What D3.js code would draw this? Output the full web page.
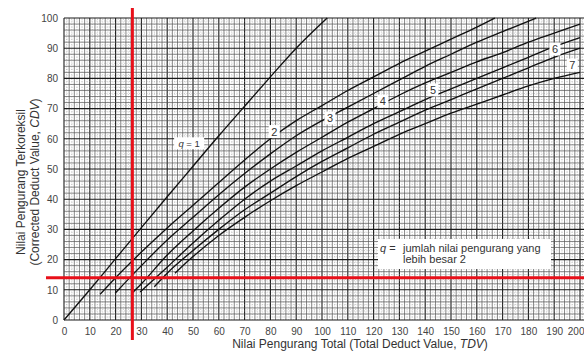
<!DOCTYPE html>
<html><head><meta charset="utf-8">
<script src="https://cdn.jsdelivr.net/npm/d3@7"></script>
<style>
html,body{margin:0;padding:0;background:#fff;}
svg{display:block;font-family:"Liberation Sans",Arial,sans-serif;}
</style></head>
<body>
<svg id="c" width="584" height="362"></svg>
<script>
// ---- data (TDV -> CDV) ----
const xTicks = [0,10,20,30,40,50,60,70,80,90,100,110,120,130,140,150,160,170,180,190,200];
const yTicks = [0,10,20,30,40,50,60,70,80,90,100];
const q1 = [[0,0],[10,10],[20,20.3],[30,30.6],[40,40.8],[50,50.9],[60,61],[70,70.8],[80,80.5],[90,90],[102,100]];
const q2 = [[14,8.5],[20,14],[30,22.5],[40,30.5],[50,38],[60,45.5],[70,53],[80,60],[90,66],[100,71],[110,76],[120,80.5],[130,85],[140,89],[150,93],[160,97],[167,100]];
const q3 = [[20,9],[30,18],[40,26.5],[50,34],[60,41.5],[70,48.5],[80,55],[90,61],[100,66],[110,70.5],[120,75],[130,79.5],[140,84],[150,88],[160,92],[170,95.5],[183,100]];
const q4 = [[26.5,9],[30,12],[40,21.5],[50,29.5],[60,37],[70,44],[80,50],[90,55.5],[100,60.5],[110,65.5],[120,70],[130,74.5],[140,78.5],[150,82],[160,85.5],[170,88.5],[180,92],[190,95],[200,98]];
const q5 = [[29.5,9.3],[40,17.5],[50,25.5],[60,33],[70,40],[80,46],[90,51],[100,56],[110,60.5],[120,65],[130,69],[140,73],[150,76.5],[160,80],[170,83.5],[180,87],[190,90.5],[200,93.5]];
const q6 = [[35,11],[40,15.5],[50,23],[60,30],[70,36.5],[80,42],[90,47.5],[100,52.5],[110,57],[120,61.5],[130,65.5],[140,69.5],[150,73],[160,76.5],[170,80],[180,83.5],[190,87],[200,90]];
const q7 = [[43,15.5],[50,21],[60,28],[70,34],[80,39.5],[90,44.5],[100,49],[110,53.5],[120,57.5],[130,61.5],[140,65],[150,68.5],[160,71.5],[170,74.5],[180,77.5],[190,80],[200,82]];
const curves = [q1,q2,q3,q4,q5,q6,q7];
// curve labels: [text, TDV, CDV]
const curveLabels = [["2",81.5,62.4],["3",103.1,66.9],["4",123.6,72.5],["5",143,76.2],["6",190.3,89.7],["7",197,84.4]];
const q1Label = [48.5,58.5];
const readTDV = 26.5, readCDV = 14;

// ---- drawing ----
const svg = d3.select("#c");
const x = d3.scaleLinear().domain([0,200]).range([64,580]);
const y = d3.scaleLinear().domain([0,100]).range([320,18]);
const xMax = 202.5;
const FONT = "Liberation Sans, Arial, sans-serif";

const grid = svg.append("g");
for (let v=0; v<=xMax; v+=1){
  const major = v%10===0, mid = v%2===0;
  grid.append("line").attr("x1",x(v)).attr("x2",x(v)).attr("y1",y(0)).attr("y2",y(100))
    .attr("stroke", major?"#1a1a1a":(mid?"#555":"#999"))
    .attr("stroke-width", major?1.1:(mid?0.7:0.5))
    .attr("stroke-dasharray", (major||mid)?null:"1,1.5");
}
for (let v=0; v<=100; v+=1){
  const major = v%10===0, mid = v%2===0;
  grid.append("line").attr("x1",x(0)).attr("x2",x(xMax)).attr("y1",y(v)).attr("y2",y(v))
    .attr("stroke", major?"#1a1a1a":(mid?"#555":"#999"))
    .attr("stroke-width", major?1.1:(mid?0.7:0.5))
    .attr("stroke-dasharray", (major||mid)?null:"1,1.5");
}

// axes
const xa = svg.append("g").attr("transform",`translate(0,${y(0)})`)
  .call(d3.axisBottom(x).tickValues(xTicks).tickSize(0).tickPadding(8));
xa.select(".domain").remove();
xa.selectAll("text").attr("font-size",10).attr("fill","#444").attr("font-family",FONT);
xa.selectAll(".tick").filter(d=>d===200).select("text").attr("text-anchor","end").attr("dx",4);
const ya = svg.append("g").attr("transform",`translate(${x(0)-6},0)`)
  .call(d3.axisLeft(y).tickValues(yTicks).tickSize(0).tickPadding(0));
ya.select(".domain").remove();
ya.selectAll("text").attr("font-size",10).attr("fill","#444").attr("font-family",FONT);

// curves
const line = d3.line().x(d=>x(d[0])).y(d=>y(d[1])).curve(d3.curveMonotoneX);
svg.append("g").selectAll("path").data(curves).join("path")
  .attr("d",line).attr("fill","none").attr("stroke","#111").attr("stroke-width",1.35);

function boxed(g, tx, ty, fs){
  return g.append("text").attr("x",tx).attr("y",ty).attr("font-size",fs)
    .attr("fill","#333").attr("text-anchor","middle").attr("dominant-baseline","central");
}
const lg = svg.append("g");
curveLabels.forEach(([t,a,b])=>{
  const px=x(a), py=y(b);
  lg.append("rect").attr("x",px-5.5).attr("y",py-6.5).attr("width",11).attr("height",13).attr("fill","#fff");
  boxed(lg,px,py,11).text(t);
});
{
  const px=x(q1Label[0]), py=y(q1Label[1]);
  lg.append("rect").attr("x",px-15).attr("y",py-6).attr("width",30).attr("height",12).attr("fill","#fff");
  const t = boxed(lg,px,py,9.5);
  t.append("tspan").attr("font-style","italic").text("q");
  t.append("tspan").text(" = 1");
}

// note box
const nb = svg.append("g");
nb.append("rect").attr("x",378).attr("y",239).attr("width",173).attr("height",30).attr("fill","#fff");
nb.append("text").attr("x",380).attr("y",252).attr("font-size",11).attr("fill","#333")
  .html('<tspan font-style="italic">q</tspan> =');
nb.append("text").attr("x",403).attr("y",252).attr("font-size",11).attr("fill","#333").text("jumlah nilai pengurang yang");
nb.append("text").attr("x",403).attr("y",263).attr("font-size",11).attr("fill","#333").text("lebih besar 2");

// axis titles
svg.append("text").attr("x",360).attr("y",348).attr("text-anchor","middle").attr("font-size",12).attr("fill","#333")
  .html('Nilai Pengurang Total (Total Deduct Value, <tspan font-style="italic">TDV</tspan>)');
const yt = svg.append("g").attr("transform","translate(0,182) rotate(-90)");
yt.append("text").attr("x",0).attr("y",25).attr("text-anchor","middle").attr("font-size",12).attr("fill","#333")
  .text("Nilai Pengurang Terkoreksil");
yt.append("text").attr("x",0).attr("y",39).attr("text-anchor","middle").attr("font-size",12).attr("fill","#333")
  .html('(Corrected Deduct Value, <tspan font-style="italic">CDV</tspan>)');

// red reading lines
svg.append("line").attr("x1",x(readTDV)).attr("x2",x(readTDV)).attr("y1",8).attr("y2",340)
  .attr("stroke","#e8101a").attr("stroke-width",3);
svg.append("line").attr("x1",46).attr("x2",584).attr("y1",y(readCDV)).attr("y2",y(readCDV))
  .attr("stroke","#e8101a").attr("stroke-width",3);
</script>
</body></html>
